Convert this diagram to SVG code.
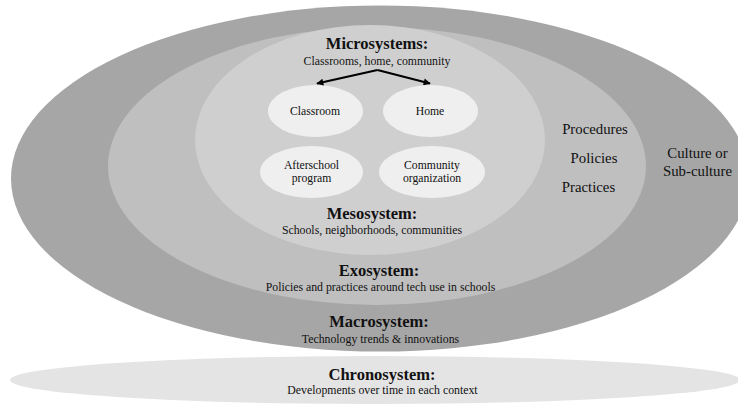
<svg xmlns="http://www.w3.org/2000/svg" width="738" height="406" viewBox="0 0 738 406">
  <defs>
    <style>
      .t { font-family: "Liberation Serif", "Times New Roman", serif; fill: #111; text-anchor: middle; }
      .h { font-size: 16.5px; font-weight: bold; }
      .s { font-size: 11.8px; }
      .n { font-size: 11.7px; }
      .r { font-size: 14.8px; }
      .node { fill: #efefef; }
      .conn { stroke: #000; stroke-width: 2.2; fill: none; marker-end: url(#arrow); }
    </style>
    <marker id="arrow" viewBox="0 0 10 10" refX="9" refY="5" markerWidth="8" markerHeight="7" markerUnits="userSpaceOnUse" orient="auto">
      <path d="M0,0 L10,5 L0,10 Z" fill="#000"/>
    </marker>
  </defs>
  <rect x="0" y="0" width="738" height="406" fill="#ffffff"/>

  <g id="macrosystem">
    <ellipse cx="380" cy="178.5" rx="369" ry="173" fill="#a6a6a6"/>
  </g>
  <g id="exosystem">
    <ellipse cx="377" cy="166" rx="269" ry="139" fill="#bfbfbf"/>
  </g>
  <g id="mesosystem">
    <ellipse cx="370" cy="140" rx="175" ry="115" fill="#d0cfd0"/>
  </g>
  <g id="chronosystem">
    <ellipse cx="375" cy="380" rx="365" ry="24" fill="#e4e4e4"/>
    <text class="t h" x="382" y="380">Chronosystem:</text>
    <text class="t s" x="382.5" y="394">Developments over time in each context</text>
  </g>

  <g id="microsystems-label">
    <text class="t h" x="377" y="49">Microsystems:</text>
    <text class="t s" x="377" y="65">Classrooms, home, community</text>
  </g>

  <g id="node-classroom">
    <ellipse class="node" cx="315.5" cy="111" rx="47.5" ry="26"/>
    <text class="t n" x="315" y="114.5">Classroom</text>
  </g>
  <g id="node-home">
    <ellipse class="node" cx="430.5" cy="111" rx="47.5" ry="26"/>
    <text class="t n" x="430" y="114.5">Home</text>
  </g>
  <g id="node-afterschool">
    <ellipse class="node" cx="311.5" cy="172" rx="51.5" ry="26"/>
    <text class="t n" x="311.5" y="169">Afterschool</text>
    <text class="t n" x="311.5" y="182">program</text>
  </g>
  <g id="node-community">
    <ellipse class="node" cx="432" cy="172" rx="53" ry="26"/>
    <text class="t n" x="432" y="169">Community</text>
    <text class="t n" x="432" y="182">organization</text>
  </g>

  <g id="mesosystem-label">
    <text class="t h" x="372" y="219">Mesosystem:</text>
    <text class="t s" x="372" y="234">Schools, neighborhoods, communities</text>
  </g>
  <g id="exosystem-label">
    <text class="t h" x="379" y="276">Exosystem:</text>
    <text class="t s" x="380.5" y="291">Policies and practices around tech use in schools</text>
  </g>
  <g id="macrosystem-label">
    <text class="t h" x="379" y="327">Macrosystem:</text>
    <text class="t s" x="380.5" y="343">Technology trends &amp; innovations</text>
  </g>

  <g id="exo-items">
    <text class="t r" x="595" y="134">Procedures</text>
    <text class="t r" x="594" y="163">Policies</text>
    <text class="t r" x="588.5" y="192">Practices</text>
  </g>
  <g id="macro-items">
    <text class="t r" x="697.5" y="158">Culture or</text>
    <text class="t r" x="697.5" y="176">Sub-culture</text>
  </g>

  <g id="connectors">
    <path class="conn" d="M377.5,70 L317,83.5"/>
    <path class="conn" d="M377.5,70 L430,83.5"/>
  </g>
</svg>
